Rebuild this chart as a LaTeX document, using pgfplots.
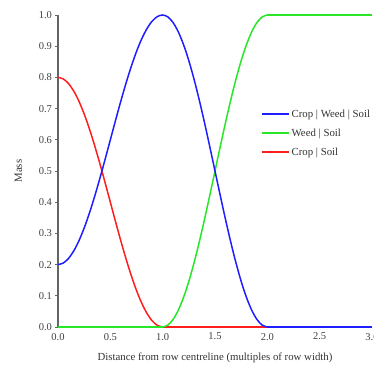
\documentclass[border=0pt]{standalone}
\usepackage{pgfplots}
\pgfplotsset{compat=1.18}
\usepackage{fontspec}
\setmainfont{Liberation Serif}
\definecolor{cblue}{RGB}{30,30,255}
\definecolor{cgreen}{RGB}{40,230,40}
\definecolor{cred}{RGB}{255,30,30}
\definecolor{axgray}{RGB}{100,100,100}
\begin{document}
\begin{tikzpicture}
\begin{axis}[
  at={(0,0)}, anchor=south west,
  scale only axis, width=314pt, height=312pt,
  xmin=0, xmax=3, ymin=0, ymax=1,
  axis lines=left,
  y axis line style={axgray, line width=2.2pt, -},
  x axis line style={draw=none},
  xtick={0,0.5,1,1.5,2,2.5,3},
  ytick={0,0.1,0.2,0.3,0.4,0.5,0.6,0.7,0.8,0.9,1.0},
  xtick style={draw=none},
  ytick style={axgray, line width=0.8pt},
  major tick length=2.5pt,
  tick align=outside,
  xticklabel style={/pgf/number format/.cd, fixed, fixed zerofill, precision=1},
  yticklabel style={/pgf/number format/.cd, fixed, fixed zerofill, precision=1},
  /pgf/number format/assume math mode=true,
  tick label style={font=\fontsize{10.5}{12}\selectfont, text=black!75},
  xlabel={Distance from row centreline (multiples of row width)},
  ylabel={Mass},
  label style={font=\fontsize{10.8}{12}\selectfont, text=black!80},
  xlabel style={yshift=-6pt},
  ylabel style={yshift=10pt},
  clip=false,
  legend style={draw=none, fill=none, at={(0.64,0.71)}, anchor=north west, font=\fontsize{10.8}{12}\selectfont, text=black!80, row sep=6pt, inner sep=2pt},
  legend cell align=left,
  legend image code/.code={\draw[#1] (0pt,0pt) -- (27pt,0pt);},
  every axis plot/.append style={line width=1.5pt},
]
\addlegendimage{cblue, line width=1.5pt}
\addlegendentry{Crop | Weed | Soil}
\addlegendimage{cgreen, line width=1.5pt}
\addlegendentry{Weed | Soil}
\addlegendimage{cred, line width=1.5pt}
\addlegendentry{Crop | Soil}
\addplot[cred, smooth, forget plot] coordinates {
(0,0.8) (0.05,0.7951) (0.1,0.7804) (0.15,0.7564) (0.2,0.7236) (0.25,0.6828) (0.3,0.6351) (0.35,0.5816) (0.4,0.5236) (0.45,0.4626) (0.5,0.4) (0.55,0.3374) (0.6,0.2764) (0.65,0.2184) (0.7,0.1649) (0.75,0.1172) (0.8,0.0764) (0.85,0.0436) (0.9,0.0196) (0.95,0.0049) (1.0,0)
};
\addplot[cred, forget plot] coordinates {(1,0) (3,0)};
\addplot[cgreen, smooth, forget plot] coordinates {
(1,0) (1.05,0.0062) (1.1,0.0245) (1.15,0.0545) (1.2,0.0955) (1.25,0.1464) (1.3,0.2061) (1.35,0.2730) (1.4,0.3455) (1.45,0.4218) (1.5,0.5) (1.55,0.5782) (1.6,0.6545) (1.65,0.7270) (1.7,0.7939) (1.75,0.8536) (1.8,0.9045) (1.85,0.9455) (1.9,0.9755) (1.95,0.9938) (2,1)
};
\addplot[cgreen, forget plot] coordinates {(0,0) (1,0)};
\addplot[cgreen, forget plot] coordinates {(2,1) (3,1)};
\addplot[cblue, smooth, forget plot] coordinates {
(0,0.2) (0.05,0.2049) (0.1,0.2196) (0.15,0.2436) (0.2,0.2764) (0.25,0.3172) (0.3,0.3649) (0.35,0.4184) (0.4,0.4764) (0.45,0.5374) (0.5,0.6) (0.55,0.6626) (0.6,0.7236) (0.65,0.7816) (0.7,0.8351) (0.75,0.8828) (0.8,0.9236) (0.85,0.9564) (0.9,0.9804) (0.95,0.9951) (1,1) (1.05,0.9938) (1.1,0.9755) (1.15,0.9455) (1.2,0.9045) (1.25,0.8536) (1.3,0.7939) (1.35,0.7270) (1.4,0.6545) (1.45,0.5782) (1.5,0.5) (1.55,0.4218) (1.6,0.3455) (1.65,0.2730) (1.7,0.2061) (1.75,0.1464) (1.8,0.0955) (1.85,0.0545) (1.9,0.0245) (1.95,0.0062) (2,0)
};
\addplot[cblue, forget plot] coordinates {(2,0) (3,0)};
\end{axis}
\pgfresetboundingbox
\path (-58pt,-51pt) rectangle (316pt,327pt);
\end{tikzpicture}
\end{document}
